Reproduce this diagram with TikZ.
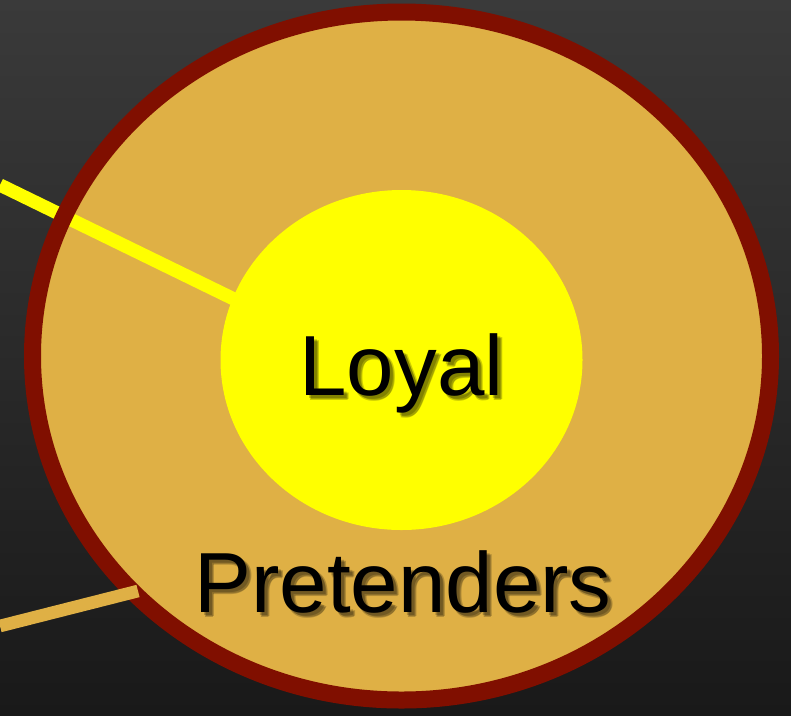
\documentclass[tikz,border=0pt]{standalone}
\usepackage{fontspec}
\setmainfont{Liberation Sans}
\begin{document}
\begin{tikzpicture}[x=0.75pt,y=-0.75pt,
  bigfont/.style={font=\fontsize{64}{70}\selectfont, inner sep=0pt, anchor=base},
  shadowtxt/.style={bigfont, text=black, text opacity=0.2},
  link/.style={line width=10pt, line cap=butt}]
\useasboundingbox (0,0) rectangle (791,715);
\definecolor{bgtop}{HTML}{3A3A3A}
\definecolor{bgbot}{HTML}{191919}
\definecolor{ringfill}{HTML}{DFB045}
\definecolor{ringedge}{HTML}{800F00}
\definecolor{core}{HTML}{FFFF00}
\shade[top color=bgtop, bottom color=bgbot] (0,0) rectangle (791,715);
% outer ellipse fill
\fill[ringfill] (401.5,356) ellipse [x radius=369, y radius=344];
% yellow connector (under the ring edge)
\coordinate (ystart) at (0,185);
\coordinate (yend) at (240,302);
\draw[link, core] (ystart) -- (yend);
% ring edge
\draw[ringedge, line width=12.75pt] (401.5,356) ellipse [x radius=369, y radius=344];
% orange connector (over the ring edge)
\coordinate (ostart) at (0,626);
\coordinate (oend) at (138,591);
\draw[link, ringfill, line width=9.5pt] (ostart) -- (oend);
% inner ellipse
\fill[core] (401.5,360) ellipse [x radius=181, y radius=170];
% labels with soft shadow
\foreach \dx/\dy in {3/3,4/5,5/4}{
  \node[shadowtxt] at (401.5+\dx,395+\dy) {Loyal};
  \node[shadowtxt] at (403+\dx,612+\dy) {Pretenders};
}
\node[bigfont] (loyal) at (401.5,395) {Loyal};
\node[bigfont] (pret) at (403,612) {Pretenders};
\end{tikzpicture}
\end{document}
